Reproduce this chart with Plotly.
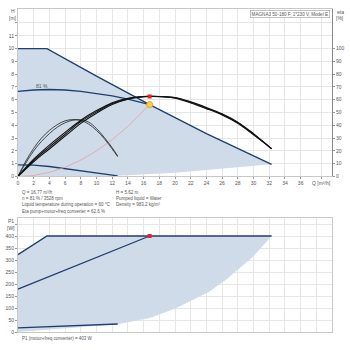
import plotly.graph_objects as go

# ---------- data (top: head / efficiency) ----------
q_max = [0, 3.7, 10, 16.77, 24, 32.3]
h_max = [10, 10, 7.85, 5.62, 3.35, 0.95]

q_low = [32.3, 28, 24, 20, 16, 12.7]
h_low = [0.95, 0.7, 0.5, 0.3, 0.15, 0.05]

q_81 = [0, 2, 4, 6, 8, 10, 12, 14, 16.77]
h_81 = [6.65, 6.76, 6.8, 6.76, 6.65, 6.5, 6.3, 6.05, 5.62]

q_min = [0, 2, 4, 6, 8, 10, 12.7]
h_min = [0.9, 0.88, 0.78, 0.62, 0.45, 0.27, 0.05]

q_sys = [0, 2, 4, 6, 8, 10, 12, 14, 16.77]
h_sys = [0, 0.08, 0.32, 0.72, 1.28, 2.0, 2.88, 3.92, 5.62]

q_eta = [0, 2, 4, 6, 8, 10, 12, 14, 16, 16.77, 18, 20, 22, 24, 26, 28, 30, 32.3]
eta_a = [0, 12.5, 23, 33, 43, 50.5, 57, 60.7, 62.4, 62.6, 62.5, 61.5, 58, 53.5, 48.5, 42, 33, 21.7]
eta_b = [0, 13.5, 24.5, 34.5, 44, 51.5, 57.7, 61.1, 62.5, 62.6, 62.5, 61.2, 57.5, 53, 48, 41.5, 32.5, 21.8]
eta_c = [0, 11.5, 21.5, 31.5, 41.5, 49.5, 56.3, 60.4, 62.3, 62.5, 62.4, 61.7, 58.4, 54, 49, 42.5, 33.5, 21.6]

q_eta_s = [0, 1, 2, 3, 4, 5, 6, 7, 8, 9, 10, 11, 12, 12.7]
eta_s1 = [0, 12, 22, 30, 36, 40.5, 43.5, 44.5, 43.8, 41, 36, 29.5, 21.5, 15.5]
eta_s2 = [0, 10.5, 20, 27.5, 33.5, 38.5, 42, 44, 44.3, 42.5, 37.5, 30.5, 22.5, 16]

op_q = 16.77
op_h = 5.62
op_eta = 62.6

# ---------- data (bottom: power) ----------
p_max = [325, 403, 403]
q_pmax = [0, 3.7, 32.3]
q_plow = [32.3, 29.9, 28.1, 26.4, 24.3, 20.1, 16.9, 12.7]
p_low = [403, 315, 265, 218, 168, 100, 60, 33]
q_p81 = [0, 16.77]
p_81 = [180, 403]
q_pmin = [0, 12.7]
p_min = [18, 34]
op_p = 403

x_ticks = list(range(0, 38, 2))
h_ticks = list(range(0, 12))
eta_ticks = list(range(0, 110, 10))
p_ticks = list(range(0, 450, 50))

# ---------- styles ----------
SHADE = "#cfdbe8"
NAVY = "#1f3f6e"
GRID = "#e6e6e6"
FRAME = "#c8c8c8"
TXT = "#555555"
FONT = "Liberation Sans"

fig = go.Figure()

# top shaded region
fig.add_trace(go.Scatter(
    x=[0] + q_max + q_low + [0], y=[0] + h_max + h_low + [0],
    fill="toself", fillcolor=SHADE, line=dict(width=0), mode="lines",
    xaxis="x", yaxis="y", hoverinfo="skip"))
for qq, hh in [(q_max, h_max), (q_81, h_81), (q_min, h_min)]:
    fig.add_trace(go.Scatter(x=qq, y=hh, mode="lines", line=dict(color=NAVY, width=1.3),
                             xaxis="x", yaxis="y"))
fig.add_trace(go.Scatter(x=q_sys, y=h_sys, mode="lines", line=dict(color="#e8a0a0", width=0.8),
                         xaxis="x", yaxis="y"))
for ee in [eta_s1, eta_s2]:
    fig.add_trace(go.Scatter(x=q_eta_s, y=ee, mode="lines", line=dict(color="#222222", width=0.8, shape="spline"),
                             xaxis="x", yaxis="y3"))
for ee in [eta_a, eta_b, eta_c]:
    fig.add_trace(go.Scatter(x=q_eta, y=ee, mode="lines", line=dict(color="#111111", width=1.1, shape="spline"),
                             xaxis="x", yaxis="y3"))
fig.add_trace(go.Scatter(x=[op_q], y=[op_eta], mode="markers",
                         marker=dict(color="#e8202a", size=4, symbol="square"), xaxis="x", yaxis="y3"))
fig.add_trace(go.Scatter(x=[op_q], y=[op_h], mode="markers",
                         marker=dict(color="#ffd23a", size=6, line=dict(color="#e8a020", width=1)),
                         xaxis="x", yaxis="y"))

# bottom shaded region
fig.add_trace(go.Scatter(
    x=[0] + q_pmax + q_plow + [0], y=[0] + p_max + p_low + [0],
    fill="toself", fillcolor=SHADE, line=dict(width=0), mode="lines",
    xaxis="x2", yaxis="y2", hoverinfo="skip"))
for qq, pp in [(q_pmax, p_max), (q_p81, p_81), (q_pmin, p_min)]:
    fig.add_trace(go.Scatter(x=qq, y=pp, mode="lines", line=dict(color=NAVY, width=1.3),
                             xaxis="x2", yaxis="y2"))
fig.add_trace(go.Scatter(x=[op_q], y=[op_p], mode="markers",
                         marker=dict(color="#e8202a", size=4, symbol="square"), xaxis="x2", yaxis="y2"))

W = H = 350
xd = [17 / W, 332 / W]
top_dom = [1 - 178 / H, 1 - 9 / H]
bot_dom = [1 - 335 / H, 1 - 220 / H]
tick_font = dict(family=FONT, size=5, color=TXT)

axis_common = dict(showgrid=True, gridcolor=GRID, gridwidth=1, zeroline=False,
                   showline=True, linecolor=FRAME, linewidth=1, tickfont=tick_font,
                   ticks="outside", ticklen=2, tickcolor="#999999")

fig.update_layout(
    width=W, height=H, margin=dict(l=0, r=0, t=0, b=0),
    paper_bgcolor="white", plot_bgcolor="white", showlegend=False,
    xaxis=dict(domain=xd, range=[0, 40], anchor="y", tickvals=x_ticks + [38.6],
               ticktext=[str(v) for v in x_ticks] + ["Q [m³/h]"], mirror=True, **axis_common),
    yaxis=dict(domain=top_dom, range=[0, 13.1], anchor="x", tickvals=h_ticks + [12],
               ticktext=[str(v) for v in h_ticks] + [""], mirror=True, **axis_common),
    yaxis3=dict(overlaying="y", side="right", range=[0, 131], anchor="x", tickvals=eta_ticks,
                showgrid=False, zeroline=False, showline=True, linecolor="#888888", linewidth=1,
                tickfont=tick_font, ticks="outside", ticklen=2, tickcolor="#999999"),
    xaxis2=dict(domain=xd, range=[0, 40], anchor="y2", tickvals=x_ticks + [38],
                showticklabels=False, mirror=True, **{k: v for k, v in axis_common.items() if k != "ticks"},
                ticks=""),
    yaxis2=dict(domain=bot_dom, range=[0, 478], anchor="x2", tickvals=p_ticks + [450],
                ticktext=[str(v) for v in p_ticks] + [""], mirror=True, **axis_common),
)

ann = []
def txt(x, y, s, anchor="left", size=5):
    ann.append(dict(x=x / W, y=1 - y / H, xref="paper", yref="paper", text=s, showarrow=False,
                    xanchor=anchor, yanchor="middle", font=dict(family=FONT, size=size, color=TXT)))

txt(12, 11, "H", "center")
txt(12, 18, "[m]", "center")
txt(340, 12, "eta", "center")
txt(340, 18, "[%]", "center")
txt(10, 223, "P1", "center")
txt(10, 230, "[W]", "center")
txt(33, 87, "81 %", "left")
txt(19, 194, "Q = 16.77 m³/h", size=4.5)
txt(113, 194, "H = 5.62 m", size=4.5)
txt(19, 200, "n = 81 % / 3528 rpm", size=4.5)
txt(113, 200, "Pumped liquid = Water", size=4.5)
txt(19, 206, "Liquid temperature during operation = 60 °C", size=4.5)
txt(113, 206, "Density = 983.2 kg/m³", size=4.5)
txt(19, 213, "Eta pump+motor+freq converter = 62.6 %", size=4.5)
txt(19, 341, "P1 (motor+freq converter) = 403 W", size=4.5)
ann.append(dict(x=330 / W, y=1 - 14.5 / H, xref="paper", yref="paper",
                text="MAGNA3 50-180 F, 1*230 V, Model E", showarrow=False,
                xanchor="right", yanchor="middle", font=dict(family=FONT, size=4.6, color=TXT),
                bordercolor="#999999", borderwidth=0.6, borderpad=1, bgcolor="white"))
fig.update_layout(annotations=ann)

fig.write_html("out.html")
